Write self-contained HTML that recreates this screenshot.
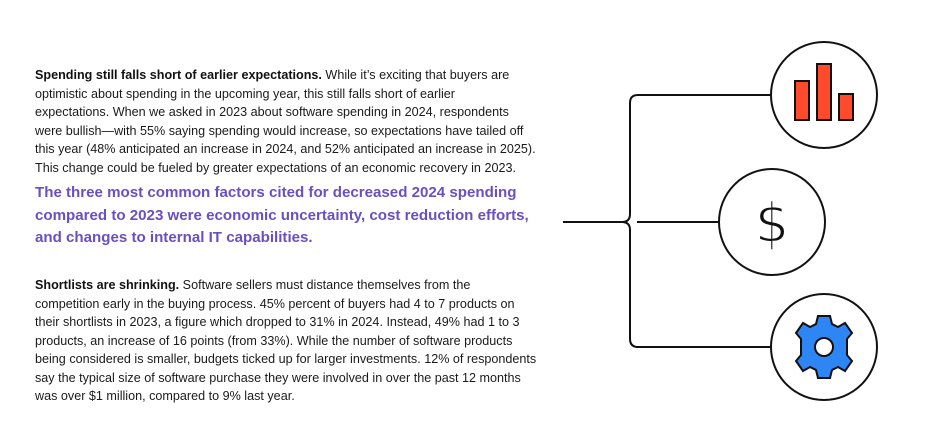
<!DOCTYPE html>
<html><head><style>
body{margin:0;width:933px;height:443px;background:#fff;position:relative;overflow:hidden;font-family:"Liberation Sans",sans-serif;}
.t{position:absolute;left:35px;font-size:12.6px;color:#1a1a1a;line-height:18.5px;white-space:nowrap;}
.p{position:absolute;left:35px;font-size:15.1px;font-weight:bold;color:#6a4fc0;line-height:22.5px;white-space:nowrap;}
b{color:#111}
</style></head><body>
<div class="t" style="top:66px"><b>Spending still falls short of earlier expectations.</b> While it’s exciting that buyers are<br>optimistic about spending in the upcoming year, this still falls short of earlier<br>expectations. When we asked in 2023 about software spending in 2024, respondents<br>were bullish—with 55% saying spending would increase, so expectations have tailed off<br>this year (48% anticipated an increase in 2024, and 52% anticipated an increase in 2025).<br>This change could be fueled by greater expectations of an economic recovery in 2023.</div>
<div class="p" style="top:182px">The three most common factors cited for decreased 2024 spending<br>compared to 2023 were economic uncertainty, cost reduction efforts,<br>and changes to internal IT capabilities.</div>
<div class="t" style="top:276px"><b>Shortlists are shrinking.</b> Software sellers must distance themselves from the<br>competition early in the buying process. 45% percent of buyers had 4 to 7 products on<br>their shortlists in 2023, a figure which dropped to 31% in 2024. Instead, 49% had 1 to 3<br>products, an increase of 16 points (from 33%). While the number of software products<br>being considered is smaller, budgets ticked up for larger investments. 12% of respondents<br>say the typical size of software purchase they were involved in over the past 12 months<br>was over $1 million, compared to 9% last year.</div>
<svg width="933" height="443" style="position:absolute;left:0;top:0" fill="none" stroke="#111" stroke-width="2">
<path d="M563 222 H622 Q630 222 630 214 V103 Q630 95 638 95 H771"/>
<path d="M622 222 Q630 222 630 230 V339 Q630 347 638 347 H771"/>
<path d="M637 222 H719"/>
<circle cx="824" cy="95" r="53" fill="#fff"/>
<circle cx="772" cy="222" r="53" fill="#fff"/>
<circle cx="824" cy="347" r="53" fill="#fff"/>
<g fill="#ff4b2b" stroke-width="2">
<rect x="795" y="81" width="14" height="39"/><rect x="817" y="64" width="14" height="56"/><rect x="839" y="94" width="14" height="26"/></g>
<text x="772" y="242" font-size="54" fill="#111" stroke="#fff" stroke-width="1.5" text-anchor="middle" font-family="DejaVu Sans" font-weight="normal">$</text>
<g transform="translate(824,347)">
<path fill="#2e86f5" stroke-width="2" d="M-6 -31 H6 L8 -23 L14 -20 L21 -24 L28 -14 L23 -8 L23 8 L28 14 L21 24 L14 20 L8 23 L6 31 H-6 L-8 23 L-14 20 L-21 24 L-28 14 L-23 8 L-23 -8 L-28 -14 L-21 -24 L-14 -20 L-8 -23 Z"/>
<circle r="9" fill="#fff" stroke-width="2"/></g>
</svg>
</body></html>
